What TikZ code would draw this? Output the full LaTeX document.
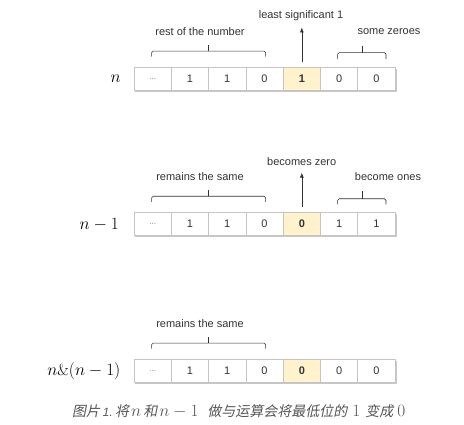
\documentclass[tikz,border=0pt]{standalone}
\usepackage{fontspec}
\usetikzlibrary{arrows.meta,calc}
\newfontfamily\labfont{Liberation Sans}
\newfontfamily\cjkfont[FakeSlant=0.2]{Noto Sans CJK SC}
\newfontfamily\capfont[FakeSlant=0.2]{Liberation Sans}
\definecolor{cellline}{HTML}{C4C4C4}
\definecolor{cellyellow}{HTML}{FFF2CC}
\definecolor{txt}{HTML}{333333}
\definecolor{captxt}{HTML}{555555}
\newcommand\cjkc[1]{{\cjkfont\fontsize{14}{16}\selectfont #1}}
\begin{document}
\begin{tikzpicture}[x=1pt,y=-1pt,
 cell/.style={draw=cellline, line width=0.8pt, fill=white, minimum width=37.3pt, minimum height=23pt, inner sep=0pt, font=\labfont\fontsize{11}{13}\selectfont, text=txt},
 hl/.style={cell, fill=cellyellow, font=\labfont\bfseries\fontsize{11}{13}\selectfont},
 dotcell/.style={cell, text=gray, font=\labfont\fontsize{8}{10}\selectfont},
 lbl/.style={font=\labfont\fontsize{11}{13}\selectfont, text=txt, inner sep=0pt},
 brace/.style={draw=txt, line width=0.6pt, rounded corners=1.5pt},
 uparrow/.style={draw=txt, line width=0.6pt, -{Latex[length=5pt,width=4pt]}, shorten <=5.5pt},
 rowlabel/.style={anchor=east, inner sep=0pt, font=\fontsize{16}{18}\selectfont},
 shadowrow/.style={fill=black!22},
]
\useasboundingbox (0,0) rectangle (464,425);
% shadows
\fill[shadowrow] (135,69) rectangle (396.6,92);
\fill[shadowrow] (135,214.2) rectangle (396.6,237.2);
\fill[shadowrow] (135,361) rectangle (396.6,384);
% row 1
\node[dotcell] (a1) at (152.65,79) {...};
\node[cell] (a2) at (189.95,79) {1};
\node[cell] (a3) at (227.25,79) {1};
\node[cell] (a4) at (264.55,79) {0};
\node[hl]   (a5) at (301.85,79) {1};
\node[cell] (a6) at (339.15,79) {0};
\node[cell] (a7) at (376.45,79) {0};
% row 2
\node[dotcell] (b1) at (152.65,224.2) {...};
\node[cell] (b2) at (189.95,224.2) {1};
\node[cell] (b3) at (227.25,224.2) {1};
\node[cell] (b4) at (264.55,224.2) {0};
\node[hl]   (b5) at (301.85,224.2) {0};
\node[cell] (b6) at (339.15,224.2) {1};
\node[cell] (b7) at (376.45,224.2) {1};
% row 3
\node[dotcell] (c1) at (152.65,371) {...};
\node[cell] (c2) at (189.95,371) {1};
\node[cell] (c3) at (227.25,371) {1};
\node[cell] (c4) at (264.55,371) {0};
\node[hl]   (c5) at (301.85,371) {0};
\node[cell] (c6) at (339.15,371) {0};
\node[cell] (c7) at (376.45,371) {0};
% row labels
\node[rowlabel] (la) at (121,79) {$n$};
\node[rowlabel] (lb) at (119,224.2) {$n-1$};
\node[rowlabel] (lc) at (120.5,371) {$n\&(n-1)$};
% braces row 1
\draw[brace] ([xshift=-1pt,yshift=10.5pt]a1.north) -- ([xshift=-1pt,yshift=16pt]a1.north) -- ([xshift=1pt,yshift=16pt]a4.north) -- ([xshift=1pt,yshift=10.5pt]a4.north);
\draw[brace] ($(a1.north)!0.5!(a4.north)+(0,-16)$) -- +(0,-6);
\draw[brace] ([xshift=-1.5pt,yshift=8pt]a6.north) -- ([xshift=-1.5pt,yshift=14.5pt]a6.north) -- ([xshift=9.5pt,yshift=14.5pt]a7.north) -- ([xshift=9.5pt,yshift=8pt]a7.north);
\draw[brace] ($(a6.north)+(22.8,-14.5)$) -- +(0,-6.5);
% braces row 2
\draw[brace] ([xshift=-1pt,yshift=10.5pt]b1.north) -- ([xshift=-1pt,yshift=16pt]b1.north) -- ([xshift=1pt,yshift=16pt]b4.north) -- ([xshift=1pt,yshift=10.5pt]b4.north);
\draw[brace] ($(b1.north)!0.5!(b4.north)+(0,-16)$) -- +(0,-6);
\draw[brace] ([xshift=-1.5pt,yshift=8pt]b6.north) -- ([xshift=-1.5pt,yshift=13.5pt]b6.north) -- ([xshift=9.5pt,yshift=13.5pt]b7.north) -- ([xshift=9.5pt,yshift=8pt]b7.north);
\draw[brace] ($(b6.north)+(22.8,-13.5)$) -- +(0,-7.5);
% braces row 3
\draw[brace] ([xshift=-1pt,yshift=10.5pt]c1.north) -- ([xshift=-1pt,yshift=16pt]c1.north) -- ([xshift=1pt,yshift=16pt]c4.north) -- ([xshift=1pt,yshift=10.5pt]c4.north);
\draw[brace] ($(c1.north)!0.5!(c4.north)+(0,-16)$) -- +(0,-6);
% arrows
\coordinate (t1) at (301.85,27.5);
\coordinate (t2) at (301.85,172.7);
\draw[uparrow] (a5.north) -- (t1);
\draw[uparrow] (b5.north) -- (t2);
% labels
\node[lbl] (l1) at (200,32) {rest of the number};
\node[lbl] (l2) at (301,15.5) {least significant 1};
\node[lbl] (l3) at (389,32) {some zeroes};
\node[lbl] (l4) at (200,177) {remains the same};
\node[lbl] (l5) at (301.7,161.7) {becomes zero};
\node[lbl] (l6) at (388,177) {become ones};
\node[lbl] (l7) at (200,323.5) {remains the same};
% caption
\node[inner sep=0pt, anchor=base west, text=captxt, font=\fontsize{18}{20}\selectfont] (cap) at (72,417)
 {\cjkc{图片}\hspace{2pt}{\capfont\fontsize{12}{14}\selectfont 1.}\hspace{3pt}\cjkc{将}\hspace{2pt}$n$\hspace{2pt}\cjkc{和}\hspace{2pt}$n-1$\hspace{9pt}\cjkc{做与运算会将最低位的}\hspace{5pt}$1$\hspace{5pt}\cjkc{变成}\hspace{4pt}$0$};
\end{tikzpicture}
\end{document}
